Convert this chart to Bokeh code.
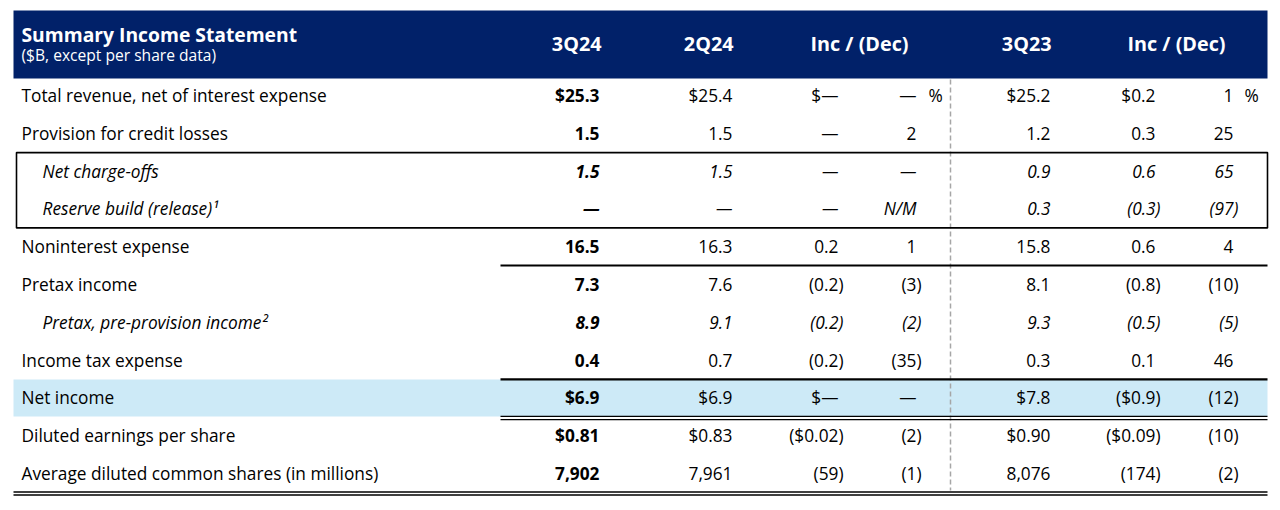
from bokeh.plotting import figure
from bokeh.models import Range1d, ColumnDataSource
from bokeh.core.properties import value, field
from bokeh.embed import file_html
from bokeh.resources import INLINE

# ---------------- data ----------------
title = "Summary Income Statement"
subtitle = "($B, except per share data)"
col_headers = ["3Q24", "2Q24", "Inc / (Dec)", "3Q23", "Inc / (Dec)"]

labels = [
    "Total revenue, net of interest expense",
    "Provision for credit losses",
    "Net charge-offs",
    "Reserve build (release)\u00b9",
    "Noninterest expense",
    "Pretax income",
    "Pretax, pre-provision income\u00b2",
    "Income tax expense",
    "Net income",
    "Diluted earnings per share",
    "Average diluted common shares (in millions)",
]
italic_rows = [2, 3, 6]

q3_24 = ["$25.3", "1.5", "1.5", "\u2014", "16.5", "7.3", "8.9", "0.4", "$6.9", "$0.81", "7,902"]
q2_24 = ["$25.4", "1.5", "1.5", "\u2014", "16.3", "7.6", "9.1", "0.7", "$6.9", "$0.83", "7,961"]
qoq_abs = ["$\u2014", "\u2014", "\u2014", "\u2014", "0.2", "(0.2)", "(0.2)", "(0.2)", "$\u2014", "($0.02)", "(59)"]
qoq_pct = ["\u2014", "2", "\u2014", "N/M", "1", "(3)", "(2)", "(35)", "\u2014", "(2)", "(1)"]
q3_23 = ["$25.2", "1.2", "0.9", "0.3", "15.8", "8.1", "9.3", "0.3", "$7.8", "$0.90", "8,076"]
yoy_abs = ["$0.2", "0.3", "0.6", "(0.3)", "0.6", "(0.8)", "(0.5)", "0.1", "($0.9)", "($0.09)", "(174)"]
yoy_pct = ["1", "25", "65", "(97)", "4", "(10)", "(5)", "46", "(12)", "(10)", "(2)"]

# ---------------- layout / style ----------------
NAVY = "#012169"
LIGHT = "#cdeaf7"
FONT = value("Open Sans")
BODY = "17.3px"
W, H = 1272, 502

p = figure(width=W, height=H, x_range=Range1d(0, W), y_range=Range1d(H, 0),
           output_backend="svg", toolbar_location=None, min_border=0,
           x_axis_location=None, y_axis_location=None)
p.grid.visible = False
p.outline_line_color = None
p.background_fill_color = "white"
p.border_fill_color = "white"

LEFT, RIGHT = 13, 1267
row_y = [95 + i * 37.8 for i in range(len(labels))]
col_right = [599, 732, 838, 916, 1050, 1155, 1233]
columns = [q3_24, q2_24, qoq_abs, qoq_pct, q3_23, yoy_abs, yoy_pct]

# header band
p.quad(left=[LEFT], right=[RIGHT], top=[10], bottom=[78], fill_color=NAVY, line_color=None)
# net income band
ni = labels.index("Net income")
p.quad(left=[LEFT], right=[RIGHT], top=[row_y[ni] - 18.5], bottom=[row_y[ni] + 18.5],
       fill_color=LIGHT, line_color=None)

# header texts
p.text(x=[21], y=[34], text=[title], text_font=FONT, text_font_size="19.3px",
       text_font_style="bold", text_color="white", text_baseline="middle")
p.text(x=[21], y=[54], text=[subtitle], text_font=FONT, text_font_size="15.6px",
       text_color="white", text_baseline="middle")
hdr_x = [col_right[0] + 2, col_right[1] + 1, 859, col_right[4] + 1, 1176]
hdr_align = ["right", "right", "center", "right", "center"]
p.text(x=hdr_x, y=[43] * 5, text=col_headers, text_font=FONT, text_font_size="19.8px",
       text_font_style="bold", text_color="white", text_baseline="middle",
       text_align=hdr_align)

# row labels
lx = [42 if i in italic_rows else 21 for i in range(len(labels))]
lstyle = ["italic" if i in italic_rows else "normal" for i in range(len(labels))]
src = ColumnDataSource(dict(x=lx, y=row_y, t=labels, s=lstyle))
p.text(x="x", y="y", text="t", text_font_style=field("s"), source=src, text_font=FONT,
       text_font_size=BODY, text_color="black", text_baseline="middle")

# cell values
xs, ys, ts, ss = [], [], [], []
for c, (vals, xr) in enumerate(zip(columns, col_right)):
    for r, v in enumerate(vals):
        xs.append(xr + (5 if v.endswith(")") else 0))
        ys.append(row_y[r])
        ts.append(v)
        it = r in italic_rows
        bold = c == 0
        ss.append("bold italic" if (bold and it) else "bold" if bold else "italic" if it else "normal")
csrc = ColumnDataSource(dict(x=xs, y=ys, t=ts, s=ss))
p.text(x="x", y="y", text="t", text_font_style=field("s"), source=csrc, text_font=FONT,
       text_font_size=BODY, text_color="black", text_baseline="middle", text_align="right")
# percent signs on first row
p.text(x=[col_right[3] + 12, col_right[6] + 11], y=[row_y[0]] * 2, text=["%", "%"],
       text_font=FONT, text_font_size=BODY, text_color="black", text_baseline="middle")

# dashed separator
p.segment(x0=[950], y0=[79], x1=[950], y1=[490], line_color="#a6a6a6", line_width=1.5,
          line_dash="5 3")

# box around the provision detail rows
p.quad(left=[16], right=[RIGHT], top=[row_y[2] - 18.5], bottom=[row_y[3] + 19],
       fill_color=None, line_color="black", line_width=1.6)

# rule above pretax income
NUM_LEFT = 500
p.segment(x0=[NUM_LEFT], y0=[row_y[5] - 19], x1=[RIGHT], y1=[row_y[5] - 19],
          line_color="black", line_width=1.8)
# rule above net income
p.segment(x0=[NUM_LEFT], y0=[row_y[ni] - 18.5], x1=[RIGHT], y1=[row_y[ni] - 18.5],
          line_color="black", line_width=2.2)
# double rule below net income
for d in (0, 3.2):
    p.segment(x0=[NUM_LEFT], y0=[row_y[ni] + 18.5 + d], x1=[RIGHT], y1=[row_y[ni] + 18.5 + d],
              line_color="black", line_width=1.4)
# double rule at bottom
last = row_y[-1]
for d in (0, 3.0):
    p.segment(x0=[LEFT], y0=[last + 18.5 + d], x1=[RIGHT], y1=[last + 18.5 + d],
              line_color="black", line_width=1.6)

open("out.html", "w").write(file_html(p, INLINE))
